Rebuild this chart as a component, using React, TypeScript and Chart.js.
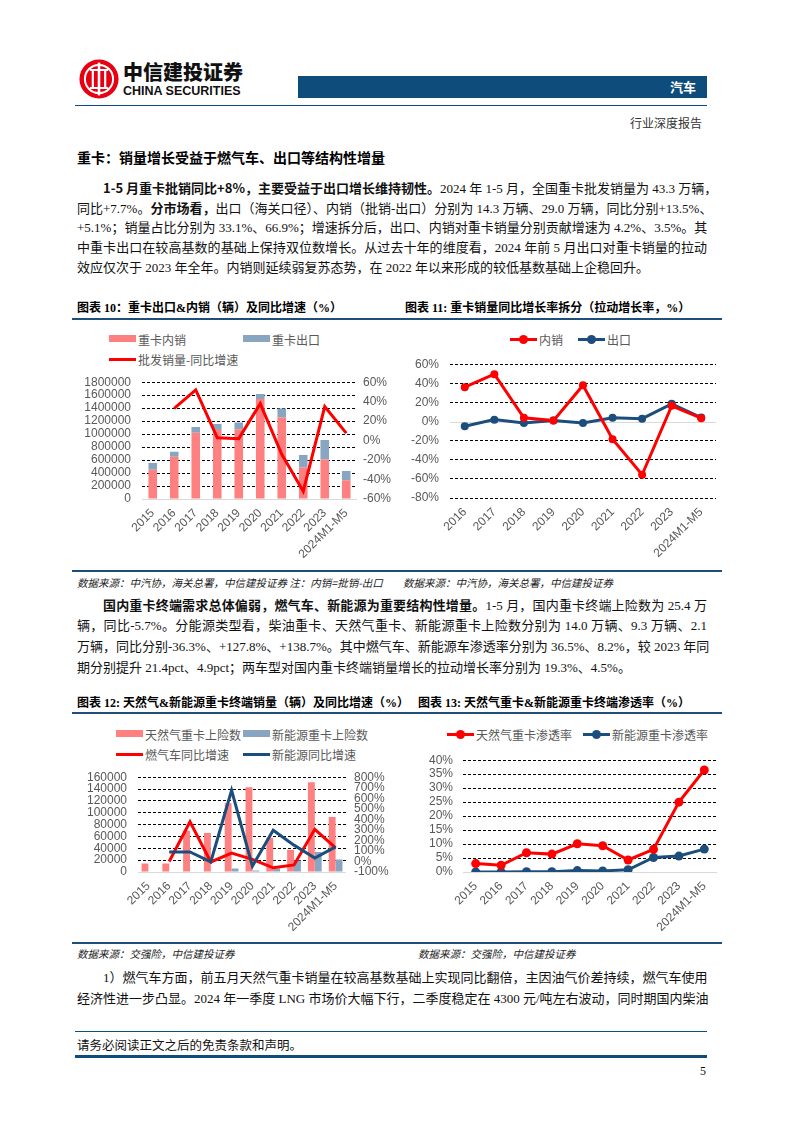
import React, { useEffect, useRef } from "react";
import { Chart, registerables } from "chart.js";
Chart.register(...registerables);

// ---------- DATA ----------
const YEARS_ALL = ["2015", "2016", "2017", "2018", "2019", "2020", "2021", "2022", "2023", "2024M1-M5"];
const YEARS_FROM_2016 = ["2016", "2017", "2018", "2019", "2020", "2021", "2022", "2023", "2024M1-M5"];

// 图表10
const LABEL_DOMESTIC = "重卡内销";
const LABEL_EXPORT = "重卡出口";
const LABEL_WHOLESALE_YOY = "批发销量-同比增速";
const HT_DOMESTIC = [450000, 650000, 1020000, 1065000, 1075000, 1543000, 1255000, 484000, 607000, 290000];
const HT_EXPORT = [105000, 80000, 90000, 92000, 103000, 77000, 139000, 195000, 303000, 143000];
const HT_WHOLESALE_YOY = [null, 33, 52, 3, 2, 38, -14, -52, 35, 7.7];

// 图表11
const LABEL_PULL_DOMESTIC = "内销";
const LABEL_PULL_EXPORT = "出口";
const PULL_DOMESTIC = [36, 49.5, 4, 1, 38, -18.5, -55.7, 16.4, 3.5];
const PULL_EXPORT = [-5, 2, -1.5, 1, -1.5, 4, 3, 18.5, 4.2];

// 图表12
const LABEL_NG_INS = "天然气重卡上险数";
const LABEL_NEV_INS = "新能源重卡上险数";
const LABEL_NG_YOY = "燃气车同比增速";
const LABEL_NEV_YOY = "新能源同比增速";
const NG_INSURED = [14300, 14300, 69500, 66000, 116000, 143000, 58000, 37500, 151500, 93000];
const NEV_INSURED = [0, 0, 0, 0, 5800, 2400, 5800, 19500, 33700, 21000];
const NG_YOY = [null, 0, 377, -5, 80, 20, -60, -33, 305, 128];
const NEV_YOY = [null, 90, 90, -3, 675, -45, 297, 155, 33, 139];

// 图表13
const LABEL_NG_PEN = "天然气重卡渗透率";
const LABEL_NEV_PEN = "新能源重卡渗透率";
const NG_PEN = [3.0, 2.4, 6.9, 6.4, 10.1, 9.4, 4.3, 8.1, 25.0, 36.5];
const NEV_PEN = [0.0, 0.0, 0.1, 0.1, 0.5, 0.4, 0.8, 5.2, 5.7, 8.2];

// ---------- STYLE ----------
const PINK = "#FF8080";
const STEEL = "#88A6C2";
const RED = "#FF0000";
const NAVY = "#1B4E7C";
const RULE = "#1F4E79";
const GRAY_TXT = "#595959";
const SANS = '"Liberation Sans", Arial, "Noto Sans CJK SC", sans-serif';
const CJK = '"Noto Sans CJK SC", sans-serif';
const BODY = '"Liberation Serif", "Noto Sans CJK SC", serif';

Chart.defaults.font.family = SANS;
Chart.defaults.font.size = 12;
Chart.defaults.color = GRAY_TXT;

const zeroLine = {
  id: "zeroLine",
  beforeDatasetsDraw(chart: any) {
    const s = chart.scales.y;
    const ctx = chart.ctx;
    const y = Math.round(s.getPixelForValue(0)) + 0.5;
    const { left, right } = chart.chartArea;
    ctx.save();
    ctx.strokeStyle = "#D9D9D9";
    ctx.lineWidth = 1;
    ctx.setLineDash([]);
    ctx.beginPath();
    ctx.moveTo(left, y);
    ctx.lineTo(right, y);
    ctx.stroke();
    ctx.restore();
  },
};

const gridOpts = {
  drawTicks: false,
  color: (c: any) => (c.tick && c.tick.value === 0 ? "rgba(0,0,0,0)" : "#000000"),
  lineWidth: 1,
};

function xAxis(height: number, extra: any = {}) {
  return {
    offset: true,
    grid: { display: false, drawTicks: false },
    border: { display: false },
    ticks: { autoSkip: false, minRotation: 45, maxRotation: 45, padding: 7, color: GRAY_TXT, font: { size: 12 } },
    afterFit: (s: any) => {
      s.height = height;
    },
    ...extra,
  };
}

function yAxis(width: number, min: number, max: number, step: number, fmt: (v: number) => string, pad: number, extra: any = {}) {
  return {
    min,
    max,
    grid: gridOpts,
    border: { display: false, dash: [3, 2] },
    ticks: { autoSkip: false, stepSize: step, padding: pad, callback: (v: any) => fmt(Number(v)), color: GRAY_TXT, font: { size: 12 } },
    afterFit: (s: any) => {
      s.width = width;
    },
    ...extra,
  };
}

function rightAxis(width: number, min: number, max: number, step: number, pad: number) {
  return {
    position: "right",
    min,
    max,
    grid: { display: false, drawTicks: false },
    border: { display: false },
    ticks: { autoSkip: false, stepSize: step, padding: pad, callback: (v: any) => pct(Number(v)), color: GRAY_TXT, font: { size: 12 } },
    afterFit: (s: any) => {
      s.width = width;
    },
  };
}

function ChartBox({ left, top, width, height, config }: any) {
  const ref = useRef<HTMLCanvasElement>(null);
  useEffect(() => {
    const chart = new Chart(ref.current as HTMLCanvasElement, config);
    return () => chart.destroy();
  }, []);
  return (
    <canvas
      ref={ref}
      width={width}
      height={height}
      style={{ position: "absolute", left, top, width, height }}
    />
  );
}

const pct = (v: number) => `${v}%`;
const plain = (v: number) => `${v}`;

const config10: any = {
  type: "bar",
  data: {
    labels: YEARS_ALL,
    datasets: [
      { type: "line", label: LABEL_WHOLESALE_YOY, data: HT_WHOLESALE_YOY, yAxisID: "y1", borderColor: RED, borderWidth: 3, pointRadius: 0, order: 0 },
      { label: LABEL_DOMESTIC, data: HT_DOMESTIC, backgroundColor: PINK, yAxisID: "y", stack: "s", categoryPercentage: 0.8, barPercentage: 0.5, order: 1 },
      { label: LABEL_EXPORT, data: HT_EXPORT, backgroundColor: STEEL, yAxisID: "y", stack: "s", categoryPercentage: 0.8, barPercentage: 0.5, order: 2 },
    ],
  },
  options: {
    responsive: false,
    animation: false,
    layout: { padding: 0 },
    plugins: { legend: { display: false }, tooltip: { enabled: false } },
    scales: {
      x: xAxis(71, { stacked: true }),
      y: yAxis(70, 0, 1800000, 200000, plain, 11, { stacked: true }),
      y1: rightAxis(43, -60, 60, 20, 6),
    },
  },
  plugins: [zeroLine],
};

const config11: any = {
  type: "line",
  data: {
    labels: YEARS_FROM_2016,
    datasets: [
      { label: LABEL_PULL_EXPORT, data: PULL_EXPORT, borderColor: NAVY, backgroundColor: NAVY, borderWidth: 3, pointRadius: 4, pointBorderWidth: 0, order: 1 },
      { label: LABEL_PULL_DOMESTIC, data: PULL_DOMESTIC, borderColor: RED, backgroundColor: RED, borderWidth: 3, pointRadius: 4, pointBorderWidth: 0, order: 0 },
    ],
  },
  options: {
    responsive: false,
    animation: false,
    layout: { padding: { top: 0, left: 0, right: 14, bottom: 0 } },
    plugins: { legend: { display: false }, tooltip: { enabled: false } },
    scales: {
      x: xAxis(72),
      y: yAxis(50, -80, 60, 20, pct, 11),
    },
  },
  plugins: [zeroLine],
};

const config12: any = {
  type: "bar",
  data: {
    labels: YEARS_ALL,
    datasets: [
      { type: "line", label: LABEL_NG_YOY, data: NG_YOY, yAxisID: "y1", borderColor: RED, borderWidth: 3, pointRadius: 0, order: 1 },
      { type: "line", label: LABEL_NEV_YOY, data: NEV_YOY, yAxisID: "y1", borderColor: NAVY, borderWidth: 3, pointRadius: 0, order: 0 },
      { label: LABEL_NG_INS, data: NG_INSURED, backgroundColor: PINK, yAxisID: "y", categoryPercentage: 0.66, barPercentage: 1, order: 2 },
      { label: LABEL_NEV_INS, data: NEV_INSURED, backgroundColor: STEEL, yAxisID: "y", categoryPercentage: 0.66, barPercentage: 1, order: 3 },
    ],
  },
  options: {
    responsive: false,
    animation: false,
    layout: { padding: 0 },
    plugins: { legend: { display: false }, tooltip: { enabled: false } },
    scales: {
      x: xAxis(68),
      y: yAxis(66, 0, 160000, 20000, plain, 11),
      y1: rightAxis(54, -100, 800, 100, 8),
    },
  },
  plugins: [zeroLine],
};

const config13: any = {
  type: "line",
  data: {
    labels: YEARS_ALL,
    datasets: [
      { label: LABEL_NEV_PEN, data: NEV_PEN, borderColor: NAVY, backgroundColor: NAVY, borderWidth: 3, pointRadius: 4.5, pointBorderWidth: 0, order: 1 },
      { label: LABEL_NG_PEN, data: NG_PEN, borderColor: RED, backgroundColor: RED, borderWidth: 3, pointRadius: 4.5, pointBorderWidth: 0, order: 0 },
    ],
  },
  options: {
    responsive: false,
    animation: false,
    layout: { padding: { top: 0, left: 0, right: 13, bottom: 0 } },
    plugins: { legend: { display: false }, tooltip: { enabled: false } },
    scales: {
      x: xAxis(68),
      y: yAxis(63, 0, 40, 5, pct, 10),
    },
  },
  plugins: [zeroLine],
};

// ---------- HTML helpers ----------
function Abs({ x, y, children, style }: any) {
  return <div style={{ position: "absolute", left: x, top: y, ...style }}>{children}</div>;
}

function LegendItem({ x, y, kind, color, label }: any) {
  return (
    <div style={{ position: "absolute", left: x, top: y - 9, height: 18, display: "flex", alignItems: "center", whiteSpace: "nowrap" }}>
      <div style={{ position: "relative", width: 27, height: 18, marginRight: 2 }}>
        {kind === "box" && <div style={{ position: "absolute", left: 0, top: 5, width: 27, height: 7, background: color }} />}
        {kind !== "box" && <div style={{ position: "absolute", left: 0, top: 7.5, width: 27, height: 3, background: color }} />}
        {kind === "point" && <div style={{ position: "absolute", left: 9, top: 4.5, width: 9, height: 9, borderRadius: "50%", background: color }} />}
      </div>
      <span style={{ fontFamily: CJK, fontSize: 12, color: GRAY_TXT }}>{label}</span>
    </div>
  );
}

function Line({ x, y, w, h, color }: any) {
  return <div style={{ position: "absolute", left: x, top: y, width: w, height: h, background: color }} />;
}

function Para({ x, top, lh, lines, indent }: any) {
  return (
    <div style={{ position: "absolute", left: x, top, width: 630, fontFamily: BODY, fontSize: 13, color: "#111" }}>
      {lines.map((ln: any, i: number) => {
        const last = ln.last;
        return (
          <div
            key={i}
            style={{
              height: lh,
              lineHeight: `${lh}px`,
              paddingLeft: i === 0 && indent ? 26 : 0,
              textAlign: "justify",
              textAlignLast: last ? "left" : "justify",
              whiteSpace: "nowrap",
            }}
          >
            {ln.segs.map((s: any, j: number) =>
              s.b ? (
                <span key={j} style={{ fontFamily: CJK, fontWeight: 700 }}>{s.t}</span>
              ) : (
                <span key={j}>{s.t}</span>
              )
            )}
          </div>
        );
      })}
    </div>
  );
}

const P1 = [
  { segs: [{ t: "1-5 月重卡批销同比+8%，主要受益于出口增长维持韧性。", b: true }, { t: "2024 年 1-5 月，全国重卡批发销量为 43.3 万辆，" }] },
  { segs: [{ t: "同比+7.7%。" }, { t: "分市场看，", b: true }, { t: "出口（海关口径）、内销（批销-出口）分别为 14.3 万辆、29.0 万辆，同比分别+13.5%、" }] },
  { segs: [{ t: "+5.1%；销量占比分别为 33.1%、66.9%；增速拆分后，出口、内销对重卡销量分别贡献增速为 4.2%、3.5%。其" }] },
  { segs: [{ t: "中重卡出口在较高基数的基础上保持双位数增长。从过去十年的维度看，2024 年前 5 月出口对重卡销量的拉动" }] },
  { segs: [{ t: "效应仅次于 2023 年全年。内销则延续弱复苏态势，在 2022 年以来形成的较低基数基础上企稳回升。" }], last: true },
];
const P2 = [
  { segs: [{ t: "国内重卡终端需求总体偏弱，燃气车、新能源为重要结构性增量。", b: true }, { t: "1-5 月，国内重卡终端上险数为 25.4 万" }] },
  { segs: [{ t: "辆，同比-5.7%。分能源类型看，柴油重卡、天然气重卡、新能源重卡上险数分别为 14.0 万辆、9.3 万辆、2.1" }] },
  { segs: [{ t: "万辆，同比分别-36.3%、+127.8%、+138.7%。其中燃气车、新能源车渗透率分别为 36.5%、8.2%，较 2023 年同" }] },
  { segs: [{ t: "期分别提升 21.4pct、4.9pct；两车型对国内重卡终端销量增长的拉动增长率分别为 19.3%、4.5%。" }], last: true },
];
const P3 = [
  { segs: [{ t: "1）燃气车方面，前五月天然气重卡销量在较高基数基础上实现同比翻倍，主因油气价差持续，燃气车使用" }] },
  { segs: [{ t: "经济性进一步凸显。2024 年一季度 LNG 市场价大幅下行，二季度稳定在 4300 元/吨左右波动，同时期国内柴油" }] },
];

const titleStyle = { fontFamily: '"Liberation Serif", "Noto Sans CJK SC", serif', fontWeight: 700, fontSize: 12, color: "#000", whiteSpace: "nowrap" as const, lineHeight: "16px" };
const srcStyle = { fontFamily: CJK, fontStyle: "italic", fontSize: 10.5, color: "#222", whiteSpace: "nowrap" as const, lineHeight: "14px" };

export default function App() {
  return (
    <div style={{ position: "absolute", left: 0, top: 0, width: 794, height: 1123, background: "#fff", overflow: "hidden" }}>
      {/* header */}
      <svg style={{ position: "absolute", left: 79, top: 59 }} width="40" height="40" viewBox="0 0 44 44">
        <circle cx="22" cy="22" r="21.5" fill="#E60012" />
        <circle cx="22" cy="22" r="15.5" fill="none" stroke="#fff" strokeWidth="2.2" />
        <rect x="20.6" y="4" width="2.8" height="36" fill="#fff" />
        <rect x="14" y="11" width="2.4" height="22" fill="#fff" />
        <rect x="27.6" y="11" width="2.4" height="22" fill="#fff" />
        <rect x="12" y="11" width="20" height="2.2" fill="#fff" />
        <rect x="12" y="30.8" width="20" height="2.2" fill="#fff" />
      </svg>
      <Abs x={123} y={60} style={{ fontFamily: CJK, fontWeight: 900, fontSize: 20, color: "#111", lineHeight: "24px" }}>中信建投证券</Abs>
      <Abs x={123} y={84} style={{ fontFamily: '"Liberation Sans Narrow", "Liberation Sans", Arial', fontWeight: 700, fontSize: 12.5, color: "#111", lineHeight: "15px" }}>CHINA SECURITIES</Abs>
      <Line x={298} y={76} w={409} h={22} color="#0E4D7B" />
      <Abs x={590} y={78} style={{ width: 106, textAlign: "right", fontFamily: CJK, fontWeight: 700, fontSize: 13, color: "#fff", lineHeight: "18px" }}>汽车</Abs>
      <Line x={75} y={105} w={632} h={1} color="#0E4D7B" />
      <Abs x={556} y={115} style={{ width: 146, textAlign: "right", fontFamily: CJK, fontSize: 12, color: "#333", lineHeight: "16px" }}>行业深度报告</Abs>

      {/* heading */}
      <Abs x={77} y={148} style={{ fontFamily: CJK, fontWeight: 700, fontSize: 14, color: "#000", lineHeight: "18px" }}>重卡：销量增长受益于燃气车、出口等结构性增量</Abs>

      <Para x={77} top={178} lh={20} lines={P1} indent />

      {/* chart 10 / 11 titles */}
      <Abs x={77} y={300} style={titleStyle}>图表 10：重卡出口&amp;内销（辆）及同比增速（%）</Abs>
      <Abs x={405} y={300} style={titleStyle}>图表 11: 重卡销量同比增长率拆分（拉动增长率，%）</Abs>
      <Line x={72} y={318} w={650} h={2} color={RULE} />

      <LegendItem x={109} y={339} kind="box" color={PINK} label={LABEL_DOMESTIC} />
      <LegendItem x={243} y={339} kind="box" color={STEEL} label={LABEL_EXPORT} />
      <LegendItem x={109} y={359} kind="line" color={RED} label={LABEL_WHOLESALE_YOY} />
      <ChartBox left={72} top={364} width={328} height={206} config={config10} />

      <LegendItem x={510} y={339} kind="point" color={RED} label={LABEL_PULL_DOMESTIC} />
      <LegendItem x={578} y={339} kind="point" color={NAVY} label={LABEL_PULL_EXPORT} />
      <ChartBox left={400} top={346} width={330} height={224} config={config11} />

      <Line x={72} y={570} w={650} h={1.5} color={RULE} />
      <Abs x={77} y={576} style={srcStyle}>数据来源：中汽协，海关总署，中信建投证券 注：内销=批销-出口</Abs>
      <Abs x={403} y={576} style={srcStyle}>数据来源：中汽协，海关总署，中信建投证券</Abs>

      <Para x={77} top={593.5} lh={21} lines={P2} indent />

      {/* chart 12 / 13 */}
      <Abs x={77} y={695} style={titleStyle}>图表 12: 天然气&amp;新能源重卡终端销量（辆）及同比增速（%）</Abs>
      <Abs x={418} y={695} style={titleStyle}>图表 13: 天然气重卡&amp;新能源重卡终端渗透率（%）</Abs>
      <Line x={72} y={712} w={650} h={2} color={RULE} />

      <LegendItem x={116} y={734} kind="box" color={PINK} label={LABEL_NG_INS} />
      <LegendItem x={243} y={734} kind="box" color={STEEL} label={LABEL_NEV_INS} />
      <LegendItem x={116} y={754} kind="line" color={RED} label={LABEL_NG_YOY} />
      <LegendItem x={243} y={754} kind="line" color={NAVY} label={LABEL_NEV_YOY} />
      <ChartBox left={72} top={759} width={328} height={181} config={config12} />

      <LegendItem x={447} y={734} kind="point" color={RED} label={LABEL_NG_PEN} />
      <LegendItem x={583} y={734} kind="point" color={NAVY} label={LABEL_NEV_PEN} />
      <ChartBox left={400} top={743} width={330} height={197} config={config13} />

      <Line x={72} y={942} w={650} h={1.5} color={RULE} />
      <Abs x={77} y={947} style={srcStyle}>数据来源：交强险，中信建投证券</Abs>
      <Abs x={418} y={947} style={srcStyle}>数据来源：交强险，中信建投证券</Abs>

      <Para x={77} top={966.5} lh={21} lines={P3} indent />

      {/* footer */}
      <Line x={75} y={1031} w={632} h={1} color="#0E4D7B" />
      <Abs x={77} y={1037} style={{ fontFamily: CJK, fontSize: 12.5, color: "#111", lineHeight: "16px" }}>请务必阅读正文之后的免责条款和声明。</Abs>
      <Line x={75} y={1055} w={632} h={3} color="#0E4D7B" />
      <Abs x={690} y={1064} style={{ width: 16, textAlign: "right", fontFamily: BODY, fontSize: 12, color: "#111", lineHeight: "14px" }}>5</Abs>
    </div>
  );
}
